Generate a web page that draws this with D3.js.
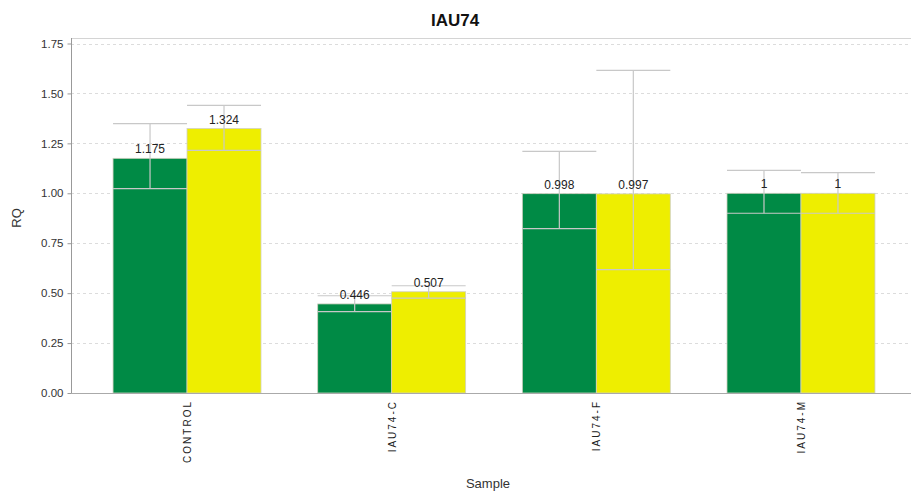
<!DOCTYPE html>
<html><head><meta charset="utf-8">
<script src="https://cdn.jsdelivr.net/npm/d3@7"></script>
<style>body{margin:0;background:#fff}svg{display:block}</style>
</head><body>
<svg id="chart" width="911" height="495"></svg>
<script>
const categories = ["CONTROL", "IAU74-C", "IAU74-F", "IAU74-M"];
const seriesNames = ["A", "B"];
const valuesA = [1.175, 0.446, 0.998, 1];
const valuesB = [1.324, 0.507, 0.997, 1];
const errHighA = [1.349, 0.487, 1.21, 1.115];
const errLowA = [1.023, 0.407, 0.823, 0.90];
const errHighB = [1.44, 0.537, 1.615, 1.103];
const errLowB = [1.215, 0.475, 0.618, 0.90];
const labelsA = ["1.175", "0.446", "0.998", "1"];
const labelsB = ["1.324", "0.507", "0.997", "1"];
const yTicks = [0, 0.25, 0.5, 0.75, 1.0, 1.25, 1.5, 1.75];
const colors = ["#008a45", "#eeee00"];

const svg = d3.select("#chart");
const mLeft = 71, mRight = 911, mTop = 38, mBottom = 393;
const y = d3.scaleLinear().domain([0, 1.75]).range([mBottom, 43.5]);
const x = d3.scaleBand().domain(categories).range([84.7, 903.3]).paddingInner(0.277).paddingOuter(0.1385);
const xs = d3.scaleBand().domain(seriesNames).range([0, x.bandwidth()]);
const FONT = "Liberation Sans, Arial, sans-serif";

// title
svg.append("text").attr("x", 455).attr("y", 26).attr("text-anchor", "middle")
  .attr("font-family", FONT).attr("font-weight", "bold")
  .attr("font-size", 17).attr("fill", "#111").text("IAU74");

// top frame line
svg.append("line").attr("x1", mLeft).attr("x2", mRight).attr("y1", mTop + 0.5).attr("y2", mTop + 0.5)
  .attr("stroke", "#d4d4d4").attr("stroke-width", 1);

// grid
svg.append("g").selectAll("line").data(yTicks.filter(d => d > 0)).join("line")
  .attr("x1", mLeft).attr("x2", mRight)
  .attr("y1", d => Math.round(y(d)) + 0.5).attr("y2", d => Math.round(y(d)) + 0.5)
  .attr("stroke", "#dcdcdc").attr("stroke-dasharray", "3,3");

// y axis
const yAxis = d3.axisLeft(y).tickValues(yTicks).tickFormat(d3.format(".2f")).tickSize(4).tickPadding(4);
const ga = svg.append("g").attr("transform", `translate(${mLeft + 0.5},0)`).call(yAxis);
ga.select(".domain").remove();
ga.selectAll(".tick line").attr("stroke", "#999");
ga.selectAll(".tick text").attr("font-family", FONT)
  .attr("font-size", 11.5).attr("fill", "#333");
svg.append("line").attr("x1", mLeft + 0.5).attr("x2", mLeft + 0.5).attr("y1", mTop).attr("y2", mBottom)
  .attr("stroke", "#999");

// bars
const series = [
  {name: "A", vals: valuesA, hi: errHighA, lo: errLowA, labels: labelsA, color: colors[0]},
  {name: "B", vals: valuesB, hi: errHighB, lo: errLowB, labels: labelsB, color: colors[1]}
];
series.forEach(s => {
  const g = svg.append("g");
  categories.forEach((c, i) => {
    const bx = x(c) + xs(s.name), bw = xs.bandwidth();
    g.append("rect").attr("x", bx).attr("y", y(s.vals[i])).attr("width", bw)
      .attr("height", y(0) - y(s.vals[i])).attr("fill", s.color)
      .attr("stroke", "#d0d0c0").attr("stroke-width", 0.8);
  });
});
// error bars
series.forEach(s => {
  const g = svg.append("g").attr("stroke", "#c8c8c8").attr("stroke-width", 1.2);
  categories.forEach((c, i) => {
    const bx = x(c) + xs(s.name), bw = xs.bandwidth(), cx = bx + bw / 2;
    g.append("line").attr("x1", cx).attr("x2", cx).attr("y1", y(s.hi[i])).attr("y2", y(s.lo[i]));
    g.append("line").attr("x1", bx).attr("x2", bx + bw).attr("y1", y(s.hi[i])).attr("y2", y(s.hi[i]));
    g.append("line").attr("x1", bx).attr("x2", bx + bw).attr("y1", y(s.lo[i])).attr("y2", y(s.lo[i]));
  });
});
// value labels
series.forEach(s => {
  categories.forEach((c, i) => {
    const cx = x(c) + xs(s.name) + xs.bandwidth() / 2;
    svg.append("text").attr("x", cx).attr("y", y(s.vals[i]) - 5).attr("text-anchor", "middle")
      .attr("font-family", FONT).attr("font-size", 12)
      .attr("fill", "#222").text(s.labels[i]);
  });
});

// x axis line
svg.append("line").attr("x1", mLeft).attr("x2", mRight).attr("y1", mBottom + 0.5).attr("y2", mBottom + 0.5)
  .attr("stroke", "#aaa").attr("stroke-width", 1.2);

// x labels
svg.append("g").selectAll("text").data(categories).join("text")
  .attr("transform", d => `translate(${x(d) + x.bandwidth() / 2 + 4},${400}) rotate(-90)`)
  .attr("text-anchor", "end")
  .attr("font-family", FONT).attr("font-size", 10)
  .attr("letter-spacing", 2).attr("fill", "#222").text(d => d);

// axis titles
svg.append("text").attr("x", 488).attr("y", 488).attr("text-anchor", "middle")
  .attr("font-family", FONT).attr("font-size", 13)
  .attr("fill", "#333").text("Sample");
svg.append("text").attr("transform", "translate(21,218) rotate(-90)").attr("text-anchor", "middle")
  .attr("font-family", FONT).attr("font-size", 13)
  .attr("fill", "#333").text("RQ");
</script>
</body></html>
